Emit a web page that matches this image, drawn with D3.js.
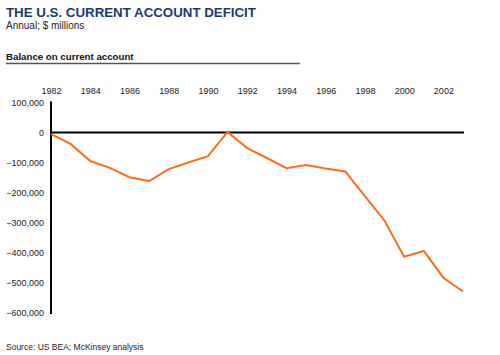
<!DOCTYPE html>
<html><head><meta charset="utf-8">
<script src="https://cdn.jsdelivr.net/npm/d3@7/dist/d3.min.js"></script>
<style>body{margin:0;background:#fff}svg{display:block}text{font-family:"Liberation Sans",Arial,sans-serif}</style>
</head><body><div id="chart"></div>
<script>
const years = [1982,1983,1984,1985,1986,1987,1988,1989,1990,1991,1992,1993,1994,1995,1996,1997,1998,1999,2000,2001,2002,2003];
const balance = [-5500,-38000,-95000,-118000,-149000,-162000,-122000,-100000,-79000,2000,-52000,-85000,-119000,-108000,-120000,-130000,-212000,-294000,-414000,-395000,-484000,-530000];
const yTicks = [100000,0,-100000,-200000,-300000,-400000,-500000,-600000];
const xTicks = [1982,1984,1986,1988,1990,1992,1994,1996,1998,2000,2002];

const W=500,H=355;
const svg=d3.select("#chart").append("svg").attr("width",W).attr("height",H);
const x=d3.scaleLinear().domain([1982,2003]).range([51,463]);
const y=d3.scaleLinear().domain([-600000,100000]).range([312.5,102.5]);

svg.append("text").attr("x",6).attr("y",16.5).attr("font-size",13.3).attr("font-weight","bold").attr("fill","#1c3a6e").text("THE U.S. CURRENT ACCOUNT DEFICIT");
svg.append("text").attr("x",6).attr("y",28.5).attr("font-size",10).attr("fill","#222").text("Annual; $ millions");
svg.append("text").attr("x",6).attr("y",59.5).attr("font-size",9.7).attr("font-weight","bold").attr("fill","#111").text("Balance on current account");
svg.append("line").attr("x1",6).attr("x2",300).attr("y1",63.5).attr("y2",63.5).attr("stroke","#555").attr("stroke-width",1.5);

const fmt=d3.format(",");
const yAxis=d3.axisLeft(y).tickValues(yTicks).tickSize(0).tickPadding(7).tickFormat(fmt);
const gy=svg.append("g").attr("transform","translate(51,0)").call(yAxis);
gy.select(".domain").remove();
gy.selectAll("text").attr("font-size",9).attr("fill","#222").attr("font-family","Liberation Sans, Arial, sans-serif");

const xAxis=d3.axisTop(x).tickValues(xTicks).tickSize(0).tickPadding(0).tickFormat(d3.format("d"));
const gx=svg.append("g").attr("transform","translate(0,93.5)").call(xAxis);
gx.select(".domain").remove();
gx.selectAll("text").attr("font-size",9).attr("fill","#222").attr("font-family","Liberation Sans, Arial, sans-serif").attr("dy",0);

svg.append("line").attr("x1",x(1982)).attr("x2",x(2003)+1).attr("y1",y(0)).attr("y2",y(0)).attr("stroke","#000").attr("stroke-width",2);
svg.append("line").attr("x1",x(1982)).attr("x2",x(1982)).attr("y1",y(100000)-1).attr("y2",y(-600000)+1.5).attr("stroke","#000").attr("stroke-width",2);

const line=d3.line().x((d,i)=>x(years[i])).y(d=>y(d));
svg.append("path").datum(balance).attr("d",line).attr("fill","none").attr("stroke","#ff6d1c").attr("stroke-width",2).attr("stroke-linejoin","miter");

svg.append("text").attr("x",6).attr("y",349.5).attr("font-size",8.5).attr("fill","#222").text("Source: US BEA; McKinsey analysis");
</script></body></html>
